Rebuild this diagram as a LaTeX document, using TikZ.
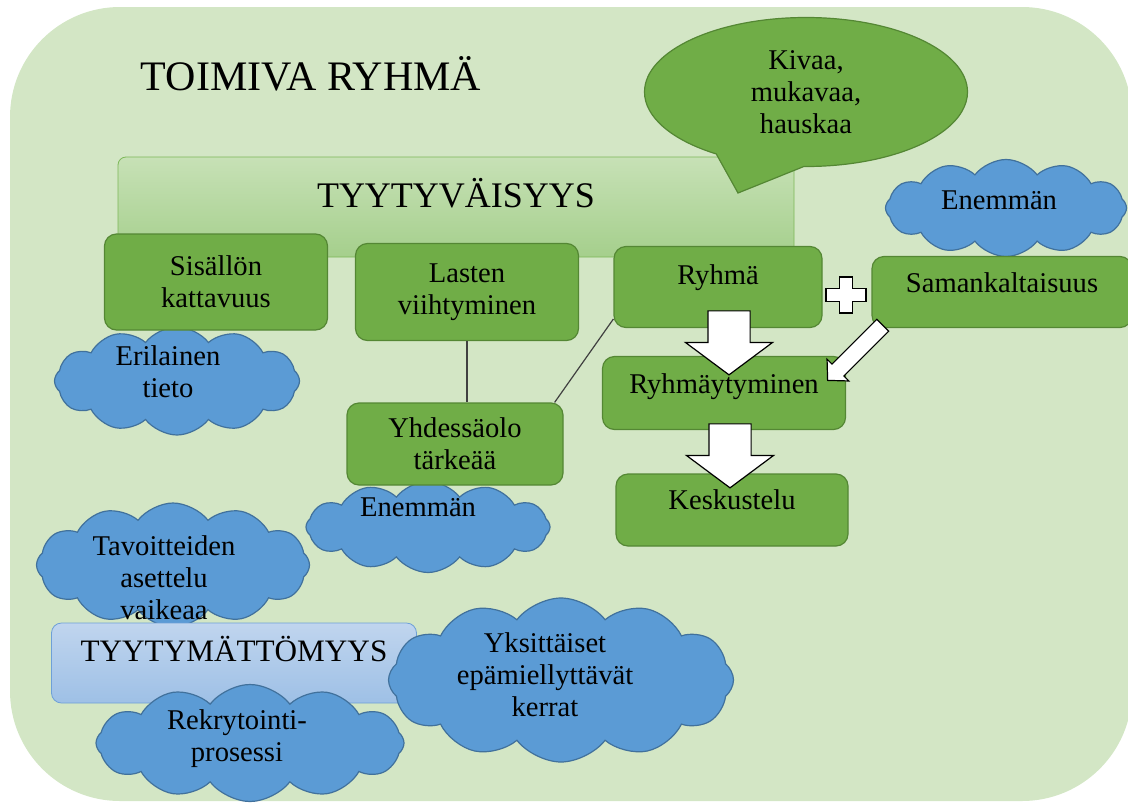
\documentclass[tikz,border=0pt]{standalone}
\usepackage{fontspec}
\setmainfont{Liberation Serif}
\usetikzlibrary{shapes.symbols,shapes.arrows,shapes.callouts}
\definecolor{bggreen}{RGB}{211,230,197}
\definecolor{boxgreen}{RGB}{112,173,71}
\definecolor{boxline}{RGB}{84,135,52}
\definecolor{bannertop}{RGB}{199,225,182}
\definecolor{bannerbot}{RGB}{165,207,140}
\definecolor{bannerline}{RGB}{125,184,88}
\definecolor{cloudblue}{RGB}{91,155,213}
\definecolor{cloudline}{RGB}{65,113,156}
\definecolor{bluetop}{RGB}{192,213,238}
\definecolor{bluebot}{RGB}{158,192,230}
\definecolor{blueline}{RGB}{110,160,215}

\begin{document}
\begin{tikzpicture}[x=0.5pt, y=-0.5pt,
  box/.style={rectangle, draw=boxline, fill=boxgreen, rounded corners=6pt, line width=0.6pt, align=center, font=\boxfont, inner sep=1pt},
  puff/.style={cloud, cloud puffs=12, cloud puff arc=105, cloud ignores aspect, draw=cloudline, fill=cloudblue, line width=0.6pt, inner sep=0pt},
  txt/.style={align=center, font=\boxfont},
  blockarrow/.style={single arrow, draw=black, fill=white, line width=0.6pt, inner xsep=0pt},
  link/.style={draw=black!75, line width=0.6pt}]
\newcommand{\boxfont}{\fontsize{14.3}{16}\selectfont}
\useasboundingbox (0,0) rectangle (1128,803);
\fill[bggreen, rounded corners=55pt] (10,7) rectangle (1132,801);

\node[font=\fontsize{21}{24}\selectfont] (title) at (311,74) {TOIMIVA RYHMÄ};

% clouds behind the boxes
\node[puff, minimum width=120.5pt, minimum height=48.5pt] (enemmanA) at (1006,208) {};
\node[txt] (enemmanAT) at (999,200) {Enemmän};
\node[puff, minimum width=122.5pt, minimum height=54pt] (erilainen) at (177,381) {};
\node[txt] (erilainenT) at (168,372) {Erilainen\\tieto};
\node[puff, minimum width=122pt, minimum height=45.5pt] (enemmanB) at (428,527) {};
\node[txt] (enemmanBT) at (418,507) {Enemmän};
\node[puff, minimum width=136.5pt, minimum height=62pt] (tavoitteet) at (173,565) {};
\node[txt] (tavoitteetT) at (164,578) {Tavoitteiden\\asettelu\\vaikeaa};

\node[rectangle, draw=bannerline, top color=bannertop, bottom color=bannerbot, rounded corners=4pt,
  minimum width=338pt, minimum height=50pt, font=\fontsize{18}{20}\selectfont,
  text height=11.9pt, text depth=11pt] (tyytyv) at (456,207) {TYYTYVÄISYYS};

\node[box, minimum width=111.5pt, minimum height=48pt] (sisalto) at (216,282) {Sisällön\\kattavuus};
\node[box, minimum width=111.5pt, minimum height=48.5pt] (lapset) at (467,292) {Lasten\\viihtyminen};
\node[box, minimum width=104pt, minimum height=40.5pt, text height=9.8pt, text depth=12.8pt] (ryhma) at (718,287) {Ryhmä};
\node[box, minimum width=130pt, minimum height=35.5pt, text height=9.8pt, text depth=9.8pt] (samank) at (1002,292) {Samankaltaisuus};
\node[box, minimum width=121.5pt, minimum height=36.5pt, text height=9.8pt, text depth=9.8pt] (ryhmay) at (724,393) {Ryhmäytyminen};
\node[box, minimum width=116pt, minimum height=36pt, text height=9.8pt, text depth=10.3pt] (keskus) at (732,510) {Keskustelu};
\node[box, minimum width=108pt, minimum height=41pt] (yhdessa) at (455,444) {Yhdessäolo\\tärkeää};

\node[ellipse callout, draw=boxline, fill=boxgreen, line width=0.6pt, minimum width=161.5pt, minimum height=74.5pt,
  callout absolute pointer={(738,193)}, callout pointer arc=33, align=center, font=\boxfont] (kupla) at (806,92) {Kivaa,\\mukavaa,\\hauskaa};

\node[rectangle, draw=blueline, top color=bluetop, bottom color=bluebot, rounded corners=5pt,
  minimum width=182.5pt, minimum height=40pt, font=\fontsize{15.6}{18}\selectfont,
  text height=10.3pt, text depth=12pt] (tyytym) at (234,663) {TYYTYMÄTTÖMYYS};

% clouds in front
\node[puff, minimum width=154pt, minimum height=58.5pt] (rekry) at (250,743) {};
\node[txt] (rekryT) at (237,739) {Rekrytointi-\\prosessi};
\node[puff, minimum width=172.5pt, minimum height=82pt] (yksitt) at (561,680) {};
\node[txt] (yksittT) at (545,675) {Yksittäiset\\epämiellyttävät\\kerrat};

\draw[link] (lapset.south) -- (lapset.south |- yhdessa.north);
\draw[link] (ryhma.197) -- ([xshift=-4.5pt]yhdessa.north east);

\node[blockarrow, rotate=-90, minimum height=32pt, inner ysep=10.25pt,
  single arrow head extend=11.25pt, single arrow tip angle=106.7] (nuoliA) at (729,335) {};
\node[blockarrow, rotate=-90, minimum height=32pt, inner ysep=10.25pt,
  single arrow head extend=11.25pt, single arrow tip angle=106.7] (nuoliB) at (730,448) {};
\node[blockarrow, rotate=225, minimum height=39pt, inner ysep=3.9pt,
  single arrow head extend=3.5pt, single arrow tip angle=93] (nuoliC) at (858,350) {};

\draw[draw=black, fill=white, line width=0.6pt] (846,295) ++(-20,-6.5) -- ++(13.5,0) -- ++(0,-11.5) -- ++(13,0)
  -- ++(0,11.5) -- ++(13.5,0) -- ++(0,13) -- ++(-13.5,0) -- ++(0,11.5) -- ++(-13,0) -- ++(0,-11.5) -- ++(-13.5,0) -- cycle;
\end{tikzpicture}
\end{document}
